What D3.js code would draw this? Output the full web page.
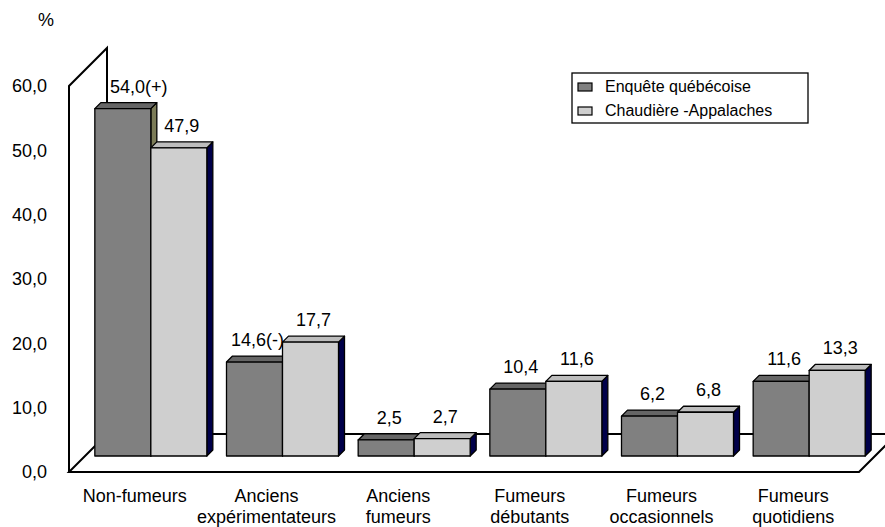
<!DOCTYPE html>
<html>
<head>
<meta charset="utf-8">
<script src="https://cdn.jsdelivr.net/npm/d3@7"></script>
<style>
  html, body { margin: 0; padding: 0; background: #fff; }
  text { font-family: "Liberation Sans", Arial, sans-serif; fill: #000; }
</style>
</head>
<body>
<script>
// Tabagisme : Enquête québécoise vs Chaudière-Appalaches (%)
const categories = ["Non-fumeurs", "Anciens\nexpérimentateurs", "Anciens\nfumeurs",
                    "Fumeurs\ndébutants", "Fumeurs\noccasionnels", "Fumeurs\nquotidiens"];
const seriesNames = ["Enquête québécoise", "Chaudière -Appalaches"];
const quebec = [54.0, 14.6, 2.5, 10.4, 6.2, 11.6];
const chaudiere = [47.9, 17.7, 2.7, 11.6, 6.8, 13.3];
const quebecMarks = ["(+)", "(-)", "", "", "", ""];
const chaudiereMarks = ["", "", "", "", "", ""];
const yTicks = [0, 10, 20, 30, 40, 50, 60];

const W = 885, H = 527;
const svg = d3.select("body").append("svg").attr("width", W).attr("height", H);

// oblique 3D frame: front plane, wall depth, bar depth
const frontL = 69, frontR = 859, wallD = 38, barPlane = 16, barDepth = 6, barW = 56;
const y = d3.scaleLinear().domain([0, 60]).range([472, 86]);
const x = d3.scaleBand().domain(categories).range([frontL, frontR]);
const fmt = v => d3.format(".1f")(v).replace(".", ",");

const colors = {
  front: ["#808080", "#cfcfcf"],
  top: ["#666666", "#bdbdbd"],
  side: ["#7c7c58", "#00004a"]
};

// side wall
svg.append("path")
  .attr("d", `M${frontL},${y(0)} L${frontL},${y(60)} L${frontL + wallD},${y(60) - wallD} L${frontL + wallD},${y(0) - wallD}`)
  .attr("fill", "#fff").attr("stroke", "#000").attr("stroke-width", 2);

// floor
svg.append("path")
  .attr("d", `M${frontL},${y(0)} L${frontR},${y(0)} L${frontR + wallD},${y(0) - wallD} L${frontL + wallD},${y(0) - wallD} Z`)
  .attr("fill", "#fff").attr("stroke", "#000").attr("stroke-width", 2);

// bars
const series = [quebec, chaudiere];
const marks = [quebecMarks, chaudiereMarks];
const bars = svg.append("g");
const labels = svg.append("g").attr("font-size", 18).attr("text-anchor", "middle");
categories.forEach((c, i) => {
  const g0 = x(c) + barPlane + (x.bandwidth() - 2 * barW) / 2;
  const base = y(0) - barPlane;
  series.forEach((s, k) => {
    const x0 = g0 + k * barW;
    const top = y(s[i]) - barPlane;
    const gb = bars.append("g").attr("stroke", "#000").attr("stroke-width", 1.3).attr("stroke-linejoin", "round");
    gb.append("path")
      .attr("d", `M${x0 + barW},${top} L${x0 + barW + barDepth},${top - barDepth} L${x0 + barW + barDepth},${base - barDepth} L${x0 + barW},${base} Z`)
      .attr("fill", colors.side[k]);
    gb.append("path")
      .attr("d", `M${x0},${top} L${x0 + barDepth},${top - barDepth} L${x0 + barW + barDepth},${top - barDepth} L${x0 + barW},${top} Z`)
      .attr("fill", colors.top[k]);
    gb.append("rect")
      .attr("x", x0).attr("y", top).attr("width", barW).attr("height", base - top)
      .attr("fill", colors.front[k]);
    const t = labels.append("text")
      .attr("x", x0 + barW / 2 + barDepth / 2)
      .attr("y", top - barDepth - 10)
      .text(fmt(s[i]) + marks[k][i]);
    // keep a label clear of the side wall's back edge
    const tw = t.node().getComputedTextLength();
    const left = x0 + barW / 2 + barDepth / 2 - tw / 2;
    const wallX = frontL + wallD;
    if (left < wallX + 3 && left + tw > wallX - 3 && top - barDepth - 10 > y(60) - wallD) {
      t.attr("x", wallX + 3 + tw / 2);
    }
  });
});

// y axis labels
const yAxis = svg.append("g")
  .attr("transform", `translate(${frontL},0)`)
  .call(d3.axisLeft(y).tickValues(yTicks).tickSize(0).tickPadding(22).tickFormat(fmt));
yAxis.select(".domain").remove();
yAxis.selectAll("text").attr("font-size", 18).attr("font-family", null);

// category labels
const xAxis = svg.append("g")
  .attr("transform", `translate(0,${y(0)})`)
  .call(d3.axisBottom(x).tickSize(0).tickPadding(0));
xAxis.select(".domain").remove();
xAxis.selectAll("text")
  .attr("font-size", 18).attr("font-family", null).attr("dy", null).attr("y", 0)
  .each(function (d) {
    const t = d3.select(this).text(null);
    d.split("\n").forEach((line, j) => {
      t.append("tspan").attr("x", 0).attr("y", 30 + j * 21).text(line);
    });
  });

// unit
svg.append("text").attr("x", 46).attr("y", 26).attr("font-size", 18)
  .attr("text-anchor", "middle").text("%");

// legend
const lg = svg.append("g").attr("transform", "translate(572,73)");
lg.append("rect").attr("width", 236).attr("height", 50)
  .attr("fill", "#fff").attr("stroke", "#000").attr("stroke-width", 1.3);
seriesNames.forEach((name, k) => {
  lg.append("rect").attr("x", 6).attr("y", 10 + k * 24).attr("width", 14).attr("height", 8)
    .attr("fill", colors.front[k]).attr("stroke", "#000").attr("stroke-width", 1.2);
  lg.append("text").attr("x", 33).attr("y", 19 + k * 24).attr("font-size", 16).text(name);
});
</script>
</body>
</html>
